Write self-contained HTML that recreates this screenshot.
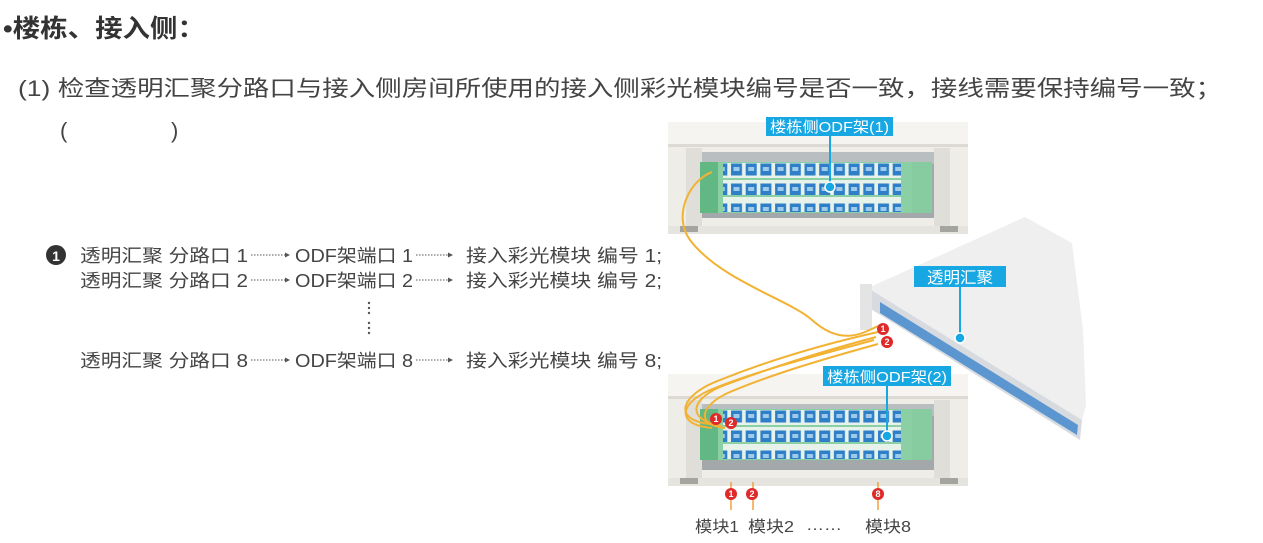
<!DOCTYPE html>
<html><head><meta charset="utf-8"><style>
html,body{margin:0;padding:0;background:#fff;}
svg{display:block;}
text{font-family:"Liberation Sans","Noto Sans CJK SC",sans-serif;}
</style></head><body>
<svg width="1263" height="543" viewBox="0 0 1263 543" xmlns="http://www.w3.org/2000/svg">
<defs>
<pattern id="ports" x="723" y="0" width="14.7" height="20" patternUnits="userSpaceOnUse">
<rect x="0" y="0" width="14.7" height="20" fill="#e6f2ea"/>
<rect x="1.5" y="1.5" width="11" height="12" fill="#2f7fc8"/>
<rect x="4" y="5" width="6" height="4" fill="#9fcbea"/>
</pattern>
<g id="rack">
<rect x="0" y="0" width="300" height="112" fill="#eeede8"/>
<rect x="0" y="0" width="300" height="22" fill="#f5f4f0"/>
<rect x="0" y="22" width="300" height="3" fill="#dcdad3"/>
<rect x="18" y="26" width="16" height="80" fill="#e0ded8"/>
<rect x="266" y="26" width="16" height="80" fill="#e0ded8"/>
<rect x="34" y="30" width="232" height="66" fill="#a3a8aa"/>
<rect x="34" y="30" width="232" height="12" fill="#b9bec0"/>
<rect x="0" y="104" width="300" height="8" fill="#e6e4de"/>
<rect x="12" y="104" width="18" height="6" fill="#a5a5a0"/>
<rect x="272" y="104" width="18" height="6" fill="#a5a5a0"/>
</g>
<g id="mods">
<rect x="32" y="0" width="232" height="51" fill="#8bcfa4"/>
<rect x="55" y="1" width="178" height="15" fill="url(#ports)"/>
<rect x="55" y="18" width="178" height="15" fill="url(#ports)"/>
<rect x="55" y="35" width="178" height="15" fill="url(#ports)"/>
<rect x="32" y="0" width="18" height="51" fill="#62b883"/>
<rect x="244" y="0" width="20" height="51" fill="#86cca0"/>
</g>
</defs>

<text x="3" y="37" font-size="25" font-weight="bold" fill="#333" textLength="202" lengthAdjust="spacingAndGlyphs">•楼栋、接入侧：</text>
<text x="18" y="96" font-size="22" fill="#444" textLength="1204" lengthAdjust="spacingAndGlyphs">(1) 检查透明汇聚分路口与接入侧房间所使用的接入侧彩光模块编号是否一致，接线需要保持编号一致；</text>
<text x="60" y="138" font-size="22" fill="#444">(</text>
<text x="171" y="138" font-size="22" fill="#444">)</text>

<circle cx="56" cy="255" r="10" fill="#333"/>
<text x="56" y="261" font-size="14" font-weight="bold" fill="#fff" text-anchor="middle">1</text>
<g font-size="18" fill="#444">
<text x="80" y="262" textLength="168" lengthAdjust="spacingAndGlyphs">透明汇聚 分路口 1</text>
<text x="295" y="262" textLength="118" lengthAdjust="spacingAndGlyphs">ODF架端口 1</text>
<text x="466" y="262" textLength="196" lengthAdjust="spacingAndGlyphs">接入彩光模块 编号 1;</text>
<text x="80" y="287" textLength="168" lengthAdjust="spacingAndGlyphs">透明汇聚 分路口 2</text>
<text x="295" y="287" textLength="118" lengthAdjust="spacingAndGlyphs">ODF架端口 2</text>
<text x="466" y="287" textLength="196" lengthAdjust="spacingAndGlyphs">接入彩光模块 编号 2;</text>
<text x="80" y="367" textLength="168" lengthAdjust="spacingAndGlyphs">透明汇聚 分路口 8</text>
<text x="295" y="367" textLength="118" lengthAdjust="spacingAndGlyphs">ODF架端口 8</text>
<text x="466" y="367" textLength="196" lengthAdjust="spacingAndGlyphs">接入彩光模块 编号 8;</text>
</g>
<g stroke="#555" stroke-width="1" stroke-dasharray="1.5,1.5" fill="#555">
<line x1="251" y1="255" x2="285" y2="255"/><line x1="416" y1="255" x2="448" y2="255"/>
<line x1="251" y1="280" x2="285" y2="280"/><line x1="416" y1="280" x2="448" y2="280"/>
<line x1="251" y1="360" x2="285" y2="360"/><line x1="416" y1="360" x2="448" y2="360"/>
</g>
<g fill="#555">
<path d="M285 252.5 L290 255 L285 257.5Z"/><path d="M448 252.5 L453 255 L448 257.5Z"/>
<path d="M285 277.5 L290 280 L285 282.5Z"/><path d="M448 277.5 L453 280 L448 282.5Z"/>
<path d="M285 357.5 L290 360 L285 362.5Z"/><path d="M448 357.5 L453 360 L448 362.5Z"/>
<circle cx="369" cy="303" r="1.2"/><circle cx="369" cy="308" r="1.2"/><circle cx="369" cy="313" r="1.2"/>
<circle cx="369" cy="323" r="1.2"/><circle cx="369" cy="328" r="1.2"/><circle cx="369" cy="333" r="1.2"/>
</g>

<use href="#rack" x="668" y="122"/>
<use href="#mods" x="668" y="162"/>
<use href="#rack" x="668" y="374"/>
<use href="#mods" x="668" y="409"/>

<!-- aggregator -->
<polygon points="868,288 1025,217 1072,243 1083,330 1086,405 1082,420" fill="#efefef"/>
<polygon points="868,288 1082,420 1080,440 866,306" fill="#d7dbe0"/>
<polygon points="880,302 1078,425 1077,435 880,313" fill="#3d84cc" opacity="0.8"/>
<rect x="860" y="284" width="12" height="46" fill="#e4e4e4"/>

<g fill="none" stroke="#f2b233" stroke-width="2">
<path d="M712 172 C690 180 672 215 690 240 C720 280 790 300 812 320 C840 345 860 335 878 326"/>
<path d="M878 332 C820 345 770 360 720 380 C680 395 672 420 710 424"/>
<path d="M876 337 C820 352 770 368 725 385 C690 398 685 420 722 426"/>
<path d="M878 344 C820 360 770 375 730 392 C700 405 695 425 725 428"/>
<path d="M874 340 C815 356 760 370 715 388 C678 402 675 425 712 428"/>
</g>
<g stroke="#f0a040" stroke-width="1.5">
<line x1="731" y1="482" x2="731" y2="510"/><line x1="753" y1="482" x2="753" y2="510"/><line x1="878" y1="482" x2="878" y2="510"/>
</g>
<g fill="#e02a2a">
<circle cx="883" cy="329" r="6"/><circle cx="887" cy="342" r="6"/>
<circle cx="716" cy="419" r="6"/><circle cx="731" cy="423" r="6"/>
<circle cx="731" cy="494" r="6"/><circle cx="752" cy="494" r="6"/><circle cx="878" cy="494" r="6"/>
</g>
<g fill="#fff" font-size="9" font-weight="bold" text-anchor="middle">
<text x="883" y="332">1</text><text x="887" y="345">2</text>
<text x="716" y="422">1</text><text x="731" y="426">2</text>
<text x="731" y="497">1</text><text x="752" y="497">2</text><text x="878" y="497">8</text>
</g>

<g fill="#17a7e2">
<rect x="766" y="117" width="127" height="19"/>
<rect x="829" y="136" width="2" height="50"/><circle cx="830" cy="187" r="5" stroke="#fff" stroke-width="1.5"/>
<rect x="914" y="266" width="92" height="21"/>
<rect x="959" y="287" width="2" height="50"/><circle cx="960" cy="338" r="5" stroke="#fff" stroke-width="1.5"/>
<rect x="823" y="366" width="128" height="20"/>
<rect x="886" y="386" width="2" height="48"/><circle cx="887" cy="436" r="5" stroke="#fff" stroke-width="1.5"/>
</g>
<g fill="#fff" font-size="15">
<text x="770" y="132" textLength="119" lengthAdjust="spacingAndGlyphs">楼栋侧ODF架(1)</text>
<text x="927" y="283" font-size="16" textLength="66" lengthAdjust="spacingAndGlyphs">透明汇聚</text>
<text x="827" y="382" textLength="120" lengthAdjust="spacingAndGlyphs">楼栋侧ODF架(2)</text>
</g>
<g font-size="16" fill="#444">
<text x="695" y="532" textLength="44" lengthAdjust="spacingAndGlyphs">模块1</text>
<text x="748" y="532" textLength="46" lengthAdjust="spacingAndGlyphs">模块2</text>
<text x="806" y="530" textLength="36" lengthAdjust="spacingAndGlyphs">……</text>
<text x="865" y="532" textLength="46" lengthAdjust="spacingAndGlyphs">模块8</text>
</g>
</svg>
</body></html>
